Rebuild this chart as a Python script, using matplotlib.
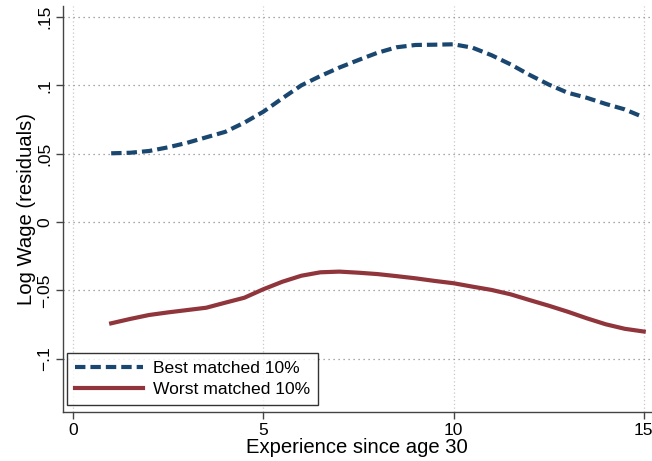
import matplotlib
matplotlib.use("Agg")
import matplotlib.pyplot as plt

plt.rcParams['font.family'] = ['Liberation Sans', 'DejaVu Sans']

# Years of experience since age 30 (half-year steps)
experience = [1, 1.5, 2, 2.5, 3, 3.5, 4, 4.5, 5, 5.5, 6, 6.5, 7, 7.5, 8,
              8.5, 9, 9.5, 10, 10.5, 11, 11.5, 12, 12.5, 13, 13.5, 14, 14.5, 15]

best_matched = [0.0503, 0.0507, 0.0520, 0.0547, 0.0580, 0.0620, 0.0660, 0.0727,
                0.0807, 0.0905, 0.1000, 0.1068, 0.1130, 0.1185, 0.1238, 0.1278,
                0.1295, 0.1297, 0.1300, 0.1275, 0.1220, 0.1153, 0.1076, 0.1006,
                0.0946, 0.0909, 0.0864, 0.0824, 0.0766]

worst_matched = [-0.0740, -0.0708, -0.0679, -0.0660, -0.0643, -0.0626, -0.0589,
                 -0.0553, -0.0491, -0.0436, -0.0392, -0.0367, -0.0362, -0.0370,
                 -0.0380, -0.0395, -0.0411, -0.0430, -0.0447, -0.0472, -0.0496,
                 -0.0528, -0.0570, -0.0611, -0.0655, -0.0703, -0.0747, -0.0780,
                 -0.0800]

x_ticks = [0, 5, 10, 15]
y_ticks = [-0.1, -0.05, 0, 0.05, 0.1, 0.15]
y_tick_labels = ['\u2212.1', '\u2212.05', '0', '.05', '.1', '.15']

navy = '#1a476f'
maroon = '#90353b'

fig = plt.figure(figsize=(6.52, 4.61), dpi=100)
ax = fig.add_axes([0.097, 0.107, 0.902, 0.880])

ax.plot(experience, best_matched, color=navy, lw=3.0, dashes=(2.5, 1.2),
        label='Best matched 10%', solid_capstyle='butt')
ax.plot(experience, worst_matched, color=maroon, lw=3.0,
        label='Worst matched 10%')

ax.set_xlim(-0.26, 15.2)
ax.set_ylim(-0.1386, 0.158)

ax.set_xticks(x_ticks)
ax.set_xticklabels([str(t) for t in x_ticks], fontsize=12.5)
ax.set_yticks(y_ticks)
ax.set_yticklabels(y_tick_labels, fontsize=12.5, rotation=90, va='center')

ax.grid(True, axis='y', linestyle=(0, (1, 3)), color='#8c8c8c', lw=0.9)
ax.grid(True, axis='x', linestyle=(0, (1, 2)), color='#c8c8c8', lw=0.9)
ax.set_axisbelow(True)

for side in ('top', 'right'):
    ax.spines[side].set_visible(False)
for side in ('left', 'bottom'):
    ax.spines[side].set_color('#444444')
    ax.spines[side].set_linewidth(1.0)
ax.tick_params(axis='both', direction='out', length=5, width=1.0,
               color='#444444', pad=3)

ax.set_xlabel('Experience since age 30', fontsize=14.6, labelpad=0)
ax.set_ylabel('Log Wage (residuals)', fontsize=14.6, labelpad=1)

leg = ax.legend(loc='lower left', bbox_to_anchor=(0.006, 0.016), fontsize=12.6,
                frameon=True, fancybox=False, edgecolor='black',
                handlelength=3.9, handletextpad=0.6, borderpad=0.45,
                labelspacing=0.35, borderaxespad=0)
leg.get_frame().set_linewidth(1.0)

fig.savefig('out.png', dpi=100)
